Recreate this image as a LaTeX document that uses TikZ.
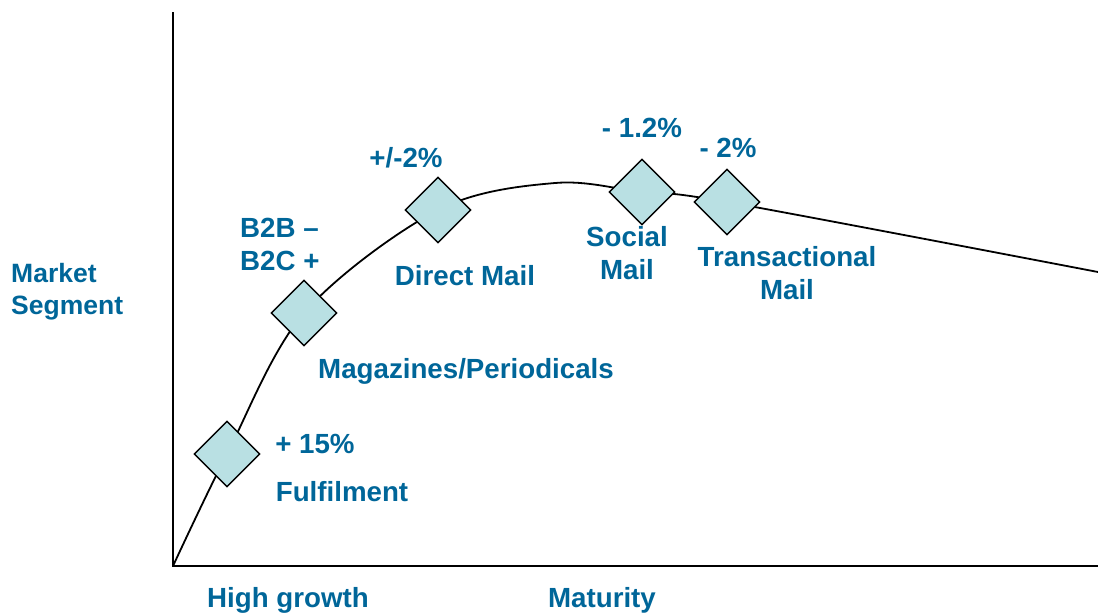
\documentclass[tikz,border=0pt]{standalone}
\usepackage{fontspec}
\setmainfont{Liberation Sans}
\usetikzlibrary{shapes.geometric,backgrounds}
\definecolor{labelblue}{RGB}{0,102,153}
\definecolor{markfill}{RGB}{185,224,227}
\begin{document}
\begin{tikzpicture}[x=1pt,y=-1pt,
  axis/.style={line width=2pt,black},
  curve/.style={line width=1.8pt,black},
  marker/.style={diamond,draw=black,line width=1.4pt,fill=markfill,
    minimum width=66pt,minimum height=66pt,inner sep=0pt},
  lbl/.style={text=labelblue,font=\fontsize{27.7}{33}\selectfont\bfseries,
    inner sep=0pt,align=center},
  axlbl/.style={lbl,font=\fontsize{26.5}{32}\selectfont\bfseries,align=left}]
\useasboundingbox (0,0) rectangle (1098,614);

% axes
\coordinate (top) at (173,12);
\coordinate (o) at (173,566);
\coordinate (xend) at (1098,566);
\draw[axis] (top) -- (o) -- (xend);

% life-cycle markers
\node[marker] (ful) at (227,454) {};
\node[marker] (mag) at (304,313) {};
\node[marker] (dm) at (438,210) {};
\node[marker] (soc) at (642,192) {};
\node[marker] (tra) at (727,202) {};
\coordinate (peak) at (555,183);
\coordinate (cend) at (1098,272);

\begin{pgfonlayer}{background}
\draw[curve] plot[smooth,tension=0.55] coordinates
  {(o) (ful.center) (mag.center) (dm.center) (peak) (soc.center) (tra.center) (cend)};
\end{pgfonlayer}

% labels
\node[lbl] (g1) at (315,444) {+ 15\%};
\node[lbl] (n1) at (342,492) {Fulfilment};
\node[lbl,align=left,anchor=west] (g2) at (240,244) {B2B --\\B2C +};
\node[lbl] (n2) at (466,371) {Magazines/Periodicals};
\node[lbl] (g3) at (406,158) {+/-2\%};
\node[lbl] (n3) at (465,276) {Direct Mail};
\node[lbl] (g4) at (642,128) {- 1.2\%};
\node[lbl] (n4) at (627,253) {Social\\Mail};
\node[lbl] (g5) at (728,148) {- 2\%};
\node[lbl] (n5) at (787,273) {Transactional\\Mail};
\node[axlbl,anchor=west] (ylab) at (11,292) {Market\\Segment};
\node[lbl] (x1) at (288,600) {High growth};
\node[lbl] (x2) at (602,600) {Maturity};
\end{tikzpicture}
\end{document}
